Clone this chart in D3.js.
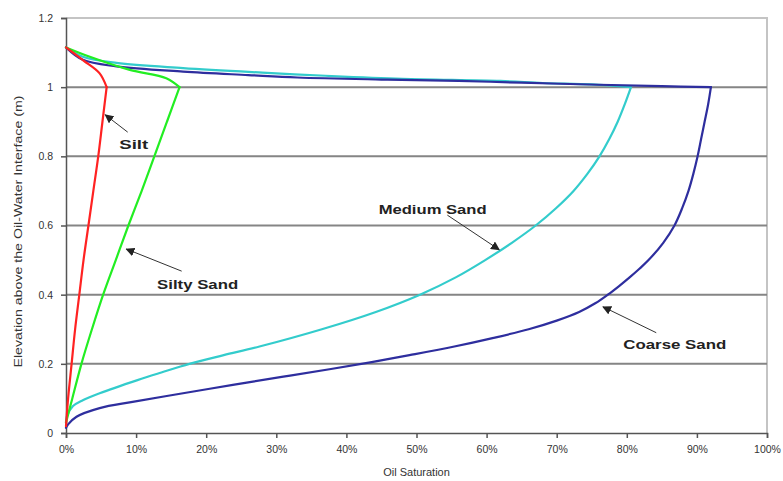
<!DOCTYPE html>
<html>
<head>
<meta charset="utf-8">
<script src="https://cdn.jsdelivr.net/npm/d3@7"></script>
<style>
  html, body { margin: 0; padding: 0; background: #fff; }
  svg { display: block; }
  text { font-family: "Liberation Sans", Arial, sans-serif; }
</style>
</head>
<body>
<svg id="chart" width="783" height="481"></svg>
<script>
// Oil saturation (%) and elevation (m) along each drainage curve, in path order
const siltSat  = [0, 0.3, 0.8, 1.3, 1.9, 2.5, 3.2, 3.9, 4.6, 5.2, 5.8, 4.8, 2.5, 0];
const siltElev = [0.02, 0.1, 0.2, 0.3, 0.4, 0.5, 0.6, 0.7, 0.8, 0.9, 1.0, 1.04, 1.077, 1.115];

const siltySandSat  = [0, 0.9, 2.2, 3.7, 5.3, 7.1, 8.9, 10.8, 12.6, 14.4, 16.2, 14.3, 9.1, 3.4, 0];
const siltySandElev = [0.03, 0.1, 0.2, 0.3, 0.4, 0.5, 0.6, 0.7, 0.8, 0.9, 1.0, 1.026, 1.05, 1.088, 1.115];

const mediumSandSat  = [0, 0.1, 1.0, 2.4, 4.8, 10.2, 13.6, 17.6, 22.5, 27.6, 36.5, 44.2, 50.5, 55.6, 59.8, 63.6, 67, 69.9, 72.4, 74.4, 76.1, 77.5, 78.7, 79.7, 80.6,
                        75, 68, 62, 48, 37, 28, 16.7, 7.2, 2.4, 0];
const mediumSandElev = [0.03, 0.047, 0.078, 0.095, 0.115, 0.153, 0.175, 0.2, 0.225, 0.25, 0.3, 0.35, 0.4, 0.45, 0.5, 0.55, 0.6, 0.65, 0.7, 0.75, 0.8, 0.85, 0.9, 0.95, 1.0,
                        1.008, 1.012, 1.018, 1.024, 1.033, 1.042, 1.055, 1.07, 1.088, 1.115];

const coarseSandSat  = [0, 0.3, 1.5, 4.8, 9.5, 16.7, 23.8, 31, 37.8, 43.6, 49, 55.4, 61, 66, 70, 73.2, 75.5, 77.3, 78.9, 80.4, 81.8, 83.1, 85.2, 86.8,
                        87.9, 88.8, 89.5, 90.1, 90.6, 91.1, 91.6, 92,
                        85, 76, 65, 56, 45, 33, 26, 16.7, 7.2, 2.4, 0];
const coarseSandElev = [0.015, 0.025, 0.047, 0.072, 0.09, 0.115, 0.139, 0.163, 0.185, 0.205, 0.225, 0.25, 0.275, 0.3, 0.325, 0.35, 0.375, 0.4, 0.425, 0.45, 0.475, 0.5, 0.55, 0.6,
                        0.65, 0.7, 0.75, 0.8, 0.85, 0.9, 0.95, 1.0,
                        1.003, 1.007, 1.013, 1.018, 1.022, 1.028, 1.035, 1.045, 1.06, 1.079, 1.115];

const xTicks = [0, 10, 20, 30, 40, 50, 60, 70, 80, 90, 100];
const yTicks = [0, 0.2, 0.4, 0.6, 0.8, 1.0, 1.2];
const gridLevels = [0.2, 0.4, 0.6, 0.8, 1.0];

// label text, its start point and the arrow from near the label to the curve
const labelNames = ["Silt", "Silty Sand", "Medium Sand", "Coarse Sand"];
const labelPos   = [[7.6, 0.822], [13.0, 0.416], [44.6, 0.633], [79.5, 0.243]];   // [sat %, elev]
const arrowFrom  = [[8.8, 0.87], [16.5, 0.468], [54.4, 0.63], [84.2, 0.29]];
const arrowTo    = [[5.6, 0.92], [8.6, 0.532], [61.8, 0.53], [76.6, 0.365]];

const series = [
  { sat: mediumSandSat, elev: mediumSandElev, color: "#33cccc" },
  { sat: coarseSandSat, elev: coarseSandElev, color: "#2e2e9e" },
  { sat: siltySandSat,  elev: siltySandElev,  color: "#22ee22" },
  { sat: siltSat,       elev: siltElev,       color: "#ff2222" }
];

const svg = d3.select("#chart");
const x = d3.scaleLinear().domain([0, 100]).range([66, 767]);
const y = d3.scaleLinear().domain([0, 1.2]).range([433, 18]);

// plot frame (light) on top and right
svg.append("path")
  .attr("d", `M${x(0)},${y(1.2)}H${x(100)}V${y(0)}`)
  .attr("fill", "none").attr("stroke", "#c4c4c4").attr("stroke-width", 2);

// horizontal gridlines
svg.append("g").selectAll("line").data(gridLevels).join("line")
  .attr("x1", x(0)).attr("x2", x(100))
  .attr("y1", d => y(d)).attr("y2", d => y(d))
  .attr("stroke", "#858585").attr("stroke-width", 2);

// axes
const xAxis = d3.axisBottom(x).tickValues(xTicks).tickFormat(d => d + "%").tickSize(5).tickPadding(8);
const yAxis = d3.axisLeft(y).tickValues(yTicks).tickFormat(d3.format("~g")).tickSize(5).tickPadding(8);

const gx = svg.append("g").attr("transform", `translate(0,${y(0)})`).call(xAxis);
const gy = svg.append("g").attr("transform", `translate(${x(0)},0)`).call(yAxis);
[gx, gy].forEach(g => {
  g.select(".domain").attr("stroke", "#555").attr("stroke-width", 1.5);
  g.selectAll(".tick line").attr("stroke", "#555").attr("stroke-width", 1.5);
  g.selectAll(".tick text").attr("fill", "#333").attr("font-size", 10.5)
    .attr("font-family", "'Liberation Sans', Arial, sans-serif");
});

// curves: the rising (drainage) branch and the upper branch are smoothed
// separately so the corner at the top of each curve stays sharp
const line = d3.line().x(d => x(d[0])).y(d => y(d[1])).curve(d3.curveCatmullRom.alpha(0.5));
const branches = [];
series.forEach(s => {
  const pts = s.sat.map((v, i) => [v, s.elev[i]]);
  const corner = d3.maxIndex(s.sat);
  branches.push({ pts: pts.slice(0, corner + 1), color: s.color });
  branches.push({ pts: pts.slice(corner), color: s.color });
});
svg.append("g").selectAll("path").data(branches).join("path")
  .attr("d", b => line(b.pts))
  .attr("fill", "none")
  .attr("stroke", b => b.color)
  .attr("stroke-width", 2.2)
  .attr("stroke-linejoin", "round")
  .attr("stroke-linecap", "round");

// arrowhead
svg.append("defs").append("marker")
  .attr("id", "head").attr("viewBox", "0 0 10 10")
  .attr("refX", 9).attr("refY", 5)
  .attr("markerWidth", 9).attr("markerHeight", 9)
  .attr("markerUnits", "userSpaceOnUse")
  .attr("orient", "auto")
  .append("path").attr("d", "M0,0L10,5L0,10z").attr("fill", "#222");

const labelWidths = [29, 81, 108, 103];
const ann = svg.append("g");
labelNames.forEach((name, i) => {
  ann.append("line")
    .attr("x1", x(arrowFrom[i][0])).attr("y1", y(arrowFrom[i][1]))
    .attr("x2", x(arrowTo[i][0])).attr("y2", y(arrowTo[i][1]))
    .attr("stroke", "#333").attr("stroke-width", 1)
    .attr("marker-end", "url(#head)");
  ann.append("text")
    .attr("x", x(labelPos[i][0])).attr("y", y(labelPos[i][1]))
    .attr("font-size", 13.5).attr("font-weight", "bold").attr("fill", "#222")
    .attr("textLength", labelWidths[i]).attr("lengthAdjust", "spacingAndGlyphs")
    .text(name);
});

// axis titles
svg.append("text")
  .attr("x", (x(0) + x(100)) / 2).attr("y", 476)
  .attr("text-anchor", "middle").attr("font-size", 11).attr("fill", "#333")
  .text("Oil Saturation");

svg.append("text")
  .attr("transform", `translate(22,${(y(0) + y(1.2)) / 2 + 6}) rotate(-90)`)
  .attr("text-anchor", "middle").attr("font-size", 11).attr("fill", "#333")
  .attr("textLength", 272).attr("lengthAdjust", "spacingAndGlyphs")
  .text("Elevation above the Oil-Water Interface (m)");
</script>
</body>
</html>
